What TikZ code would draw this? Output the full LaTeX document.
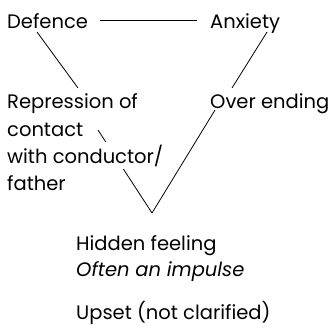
\documentclass[tikz,border=0pt]{standalone}
\usepackage{fontspec}
\setmainfont{Poppins}
\usetikzlibrary{positioning,backgrounds}
\tikzset{lbl/.style={inner sep=0pt,anchor=base west,text=black,
font=\fontsize{19.5}{27}\selectfont},
link/.style={draw=black,line width=0.8pt}}

\begin{document}
\begin{tikzpicture}[x=1pt,y=1pt]
		\useasboundingbox (0,0) rectangle (336,-327);
		\begin{scope}[every node/.style={lbl}]
			\node (defence) at (7,-28) {Defence};
			\node (anxiety) at (210,-28) {Anxiety};
			\node (repr) at (7,-108) {Repression of};
			\node (over) at (210,-108) {Over ending};
			\node (contact) at ([yshift=-28]repr.base west) {contact};
			\node[fill=white,inner ysep=3pt] (conductor) at ([yshift=-55]repr.base west) {with conductor/};
			\node (father) at ([yshift=-82]repr.base west) {father};
			\node (hidden) at (76,-250) {Hidden feeling};
			\node (often) at (76,-276) {\itshape Often an impulse};
			\node (upset) at (76,-319) {Upset (not clarified)};
		\end{scope}
		\coordinate (vtx) at (152,-213);

		\begin{scope}[on background layer,every edge/.style={link}]
			\path (defence) edge[shorten <=12pt,shorten >=13pt] (defence -| anxiety.west);
			\path ([shift={(30,-4)}]defence.base west) edge ([shift={(71,20)}]repr.base west);
			\path ([shift={(57,-4)}]anxiety.base west) edge ([shift={(22,20)}]over.base west);
			\path ([shift={(91,-22)}]repr.base west) edge (vtx);
			\path ([shift={(5,-2)}]over.base west) edge (vtx);
		\end{scope}
	\end{tikzpicture}
\end{document}
